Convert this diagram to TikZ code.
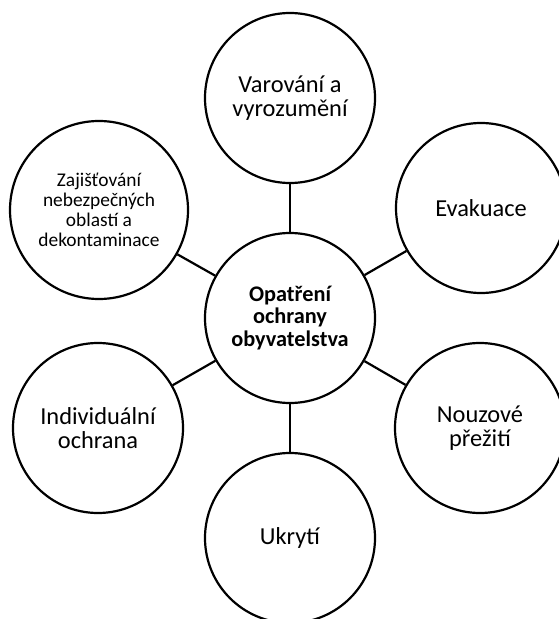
\documentclass[tikz,border=0pt]{standalone}
\usepackage{fontspec}
\setmainfont{Carlito}
\begin{document}
\begin{tikzpicture}[x=1bp,y=-1bp,
  bub/.style={circle, draw=black, line width=2.2bp, minimum size=170bp, inner sep=0pt, align=center,
    font=\fontsize{24.4bp}{24.5bp}\selectfont},
  hub/.style={bub, font=\fontsize{22.3bp}{22.5bp}\selectfont\bfseries},
  small/.style={bub, minimum size=178bp, font=\fontsize{19.4bp}{19.8bp}\selectfont},
  link/.style={draw=black, line width=2.2bp}]
\clip (0,0) rectangle (559,619);
\fill[white] (0,0) rectangle (559,619);
\node[hub] (c) at (290,318) {Opatření\\ochrany\\obyvatelstva};
\node[bub] (var) at (290,98) {Varování a\\vyrozumění};
\node[bub] (eva) at (481,208) {Evakuace};
\node[bub] (nou) at (480,428) {Nouzové\\přežití};
\node[bub] (ukr) at (290,538) {Ukrytí};
\node[bub] (ind) at (98,428) {Individuální\\ochrana};
\node[small] (zaj) at (99,210) {Zajišťování\\nebezpečných\\oblastí a\\dekontaminace};
\draw[link] (c) -- (var);
\draw[link] (c) -- (eva);
\draw[link] (c) -- (nou);
\draw[link] (c) -- (ukr);
\draw[link] (c) -- (ind);
\draw[link] (c) -- (zaj);
\end{tikzpicture}
\end{document}
